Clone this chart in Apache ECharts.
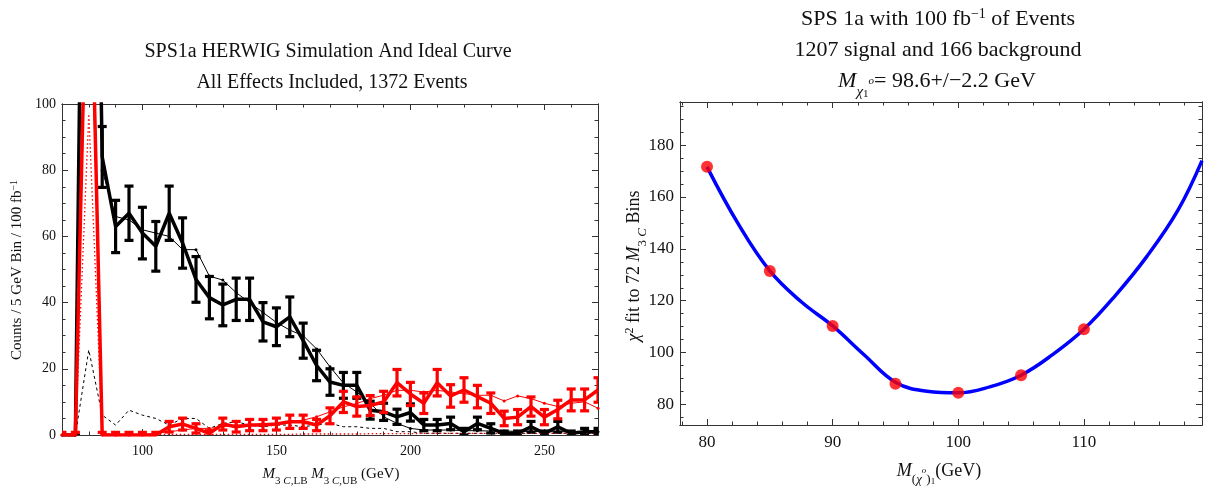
<!DOCTYPE html>
<html><head><meta charset="utf-8">
<script src="https://cdn.jsdelivr.net/npm/echarts@6/dist/echarts.min.js"></script>
<style>html,body{margin:0;padding:0;background:#fff}#c{width:1208px;height:488px}</style>
</head><body><div id="c"></div>
<script>
// ---------- Left panel data (5 GeV bins) ----------
const massBins = [70,75,80,85,90,95,100,105,110,115,120,125,130,135,140,145,150,155,160,165,170,175,180,185,190,195,200,205,210,215,220,225,230,235,240,245,250,255,260,265,270];
const lbCounts = [0,0,330,84,63,67,61,57,67,58,47,41.5,39.3,41,41,34.2,32.7,35.7,28.5,21,16,15,15,7.5,7,5.5,6.8,3,3,3.5,1,3.5,2,0.5,0.5,2.5,0.5,2.5,0.5,1,1];
const lbErrors = [0,0,18,9.2,7.9,8.2,7.8,7.5,8.2,7.6,6.9,6.4,6.3,6.4,6.4,5.8,5.7,6,5.3,4.6,4,3.9,3.9,2.7,2.6,2.3,2.6,1.7,1.7,1.9,1,1.9,1.4,0.7,0.7,1.6,0.7,1.6,0.7,1,1];
const lbIdeal = [0,0,300,80,66,65,62,61,60,56,56,48,46.8,43,40,37,34,31.7,30,26,20.6,15.7,13,9.6,5.5,3.5,2,1.5,1.5,1.5,1.3,1.3,1.2,1.2,1.1,1.1,1,1,1,1,1];
const lbBackground = [0,0,25.7,6,3,7.5,6,5,3,5,5,2,3.5,4,3,2.5,3,3,2.5,3,3.5,2.5,2.5,2,2,1,1,0.5,0.5,0.5,0.5,0.5,0.5,0.5,0.5,0.5,0.5,0.5,0.5,0.5,0.5];
const ubCounts = [0,0,175,0,0,0,0,0,2.5,3.3,2,0.5,3.3,2.5,3,3,3.3,4,4,3,5.8,10,8.6,8.9,10,15.8,12.4,9.6,15.8,11.8,13.6,11.6,9.6,5,5.4,8.6,5.4,7.7,10.6,10.6,13.6];
const ubErrors = [0.8,0.8,13,0.8,0.8,0.8,0.8,0.8,1.6,1.8,1.4,0.8,1.8,1.6,1.7,1.7,1.8,2,2,1.7,2.4,3.2,2.9,3,3.2,4,3.5,3.1,4,3.4,3.7,3.4,3.1,2.2,2.3,2.9,2.3,2.8,3.3,3.3,3.7];
const ubIdeal = [0,0,160,0,0,0,0,0.5,1,1.5,2,2,2.5,3,3,3.5,3.5,4,4.5,5.5,7,8.5,9.5,11,12,13.5,13.5,13,13.5,13,12.5,12,12,10.3,11.8,11,9.6,8.6,9.6,10,8.1];
const ubBackground = [0,0,97,0.5,0.2,0.2,0.2,0.2,0.2,0.2,0.2,0.2,0.2,0.2,0.2,0.2,0.2,0.2,0.3,0.3,0.3,0.3,0.3,0.4,0.4,0.4,0.4,0.5,0.5,0.5,0.5,0.5,0.5,0.5,0.5,0.5,0.5,0.5,0.5,0.5,0.5];

// ---------- Right panel data ----------
const fitMasses = [80,85,90,95,100,105,110];
const fitChi2 = [171.6,131.5,110.3,88,84.5,91.3,109];
const curveMasses = [80,82.5,85,87.5,90,92.5,95,97.5,100,102.5,105,107.5,110,112.5,115,117.5,119.4];
const curveChi2 = [171.6,149.5,131.5,119.6,110.3,99.2,88.6,85.1,84.5,86.8,91.3,99.2,109,122,137,155,174];

// ---------- Tick values ----------
const leftXMajor = [100,150,200,250];
const leftXMinor = [70,80,90,110,120,130,140,160,170,180,190,210,220,230,240,260,270];
const leftYMajor = [0,20,40,60,80,100];
const leftYMinor = [5,10,15,25,30,35,45,50,55,65,70,75,85,90,95];
const rightXMajor = [80,90,100,110];
const rightXMinor = [78,82,84,86,88,92,94,96,98,102,104,106,108,112,114,116,118];
const rightYMajor = [80,100,120,140,160,180];
const rightYMinor = [75,85,90,95,105,110,115,125,130,135,145,150,155,165,170,175,185,190,195];

const SERIF = "'Liberation Serif','DejaVu Serif',serif";
const FRAME = '#333';

function pairs(xs, ys){ return xs.map((x,i)=>[x, ys[i]]); }
function triples(xs, ys, es){ return xs.map((x,i)=>[x, ys[i], es[i]]); }

function axis(grid, pos, min, max, ticks, len, labels, fs, margin){
  return {
    type:'value', gridIndex:grid, position:pos, min:min, max:max,
    axisLine:{show:true, onZero:false, lineStyle:{color:FRAME, width:1}},
    axisTick:{show:true, inside:true, length:len, customValues:ticks, lineStyle:{color:FRAME, width:1}},
    axisLabel: labels ? {show:true, customValues:ticks, fontFamily:SERIF, fontSize:fs, color:'#111', margin:margin} : {show:false},
    splitLine:{show:false}
  };
}

const xAxes = [
  axis(0,'bottom',70,270,leftXMajor,6,true,14,9),
  axis(0,'top',70,270,leftXMajor,6,false),
  axis(0,'bottom',70,270,leftXMinor,3.5,false),
  axis(0,'top',70,270,leftXMinor,3.5,false),
  axis(1,'bottom',77.85,119.4,rightXMajor,6,true,17,9),
  axis(1,'top',77.85,119.4,rightXMajor,6,false),
  axis(1,'bottom',77.85,119.4,rightXMinor,3.5,false),
  axis(1,'top',77.85,119.4,rightXMinor,3.5,false)
];
const yAxes = [
  axis(0,'left',0,100,leftYMajor,6,true,14,6),
  axis(0,'right',0,100,leftYMajor,6,false),
  axis(0,'left',0,100,leftYMinor,3.5,false),
  axis(0,'right',0,100,leftYMinor,3.5,false),
  axis(1,'left',72.1,196.6,rightYMajor,6,true,17,6),
  axis(1,'right',72.1,196.6,rightYMajor,6,false),
  axis(1,'left',72.1,196.6,rightYMinor,3.5,false),
  axis(1,'right',72.1,196.6,rightYMinor,3.5,false)
];

function errRender(color, cap, lw){
  return function(params, api){
    const x = api.value(0), y = api.value(1), e = api.value(2);
    const lo = api.coord([x, y - e]), hi = api.coord([x, y + e]);
    const st = {stroke:color, lineWidth:lw};
    return {type:'group', children:[
      {type:'line', shape:{x1:lo[0], y1:lo[1], x2:hi[0], y2:hi[1]}, style:st},
      {type:'line', shape:{x1:lo[0]-cap, y1:lo[1], x2:lo[0]+cap, y2:lo[1]}, style:st},
      {type:'line', shape:{x1:hi[0]-cap, y1:hi[1], x2:hi[0]+cap, y2:hi[1]}, style:st}
    ]};
  };
}

function rich(base){
  const L = Math.round(base*1.7);
  const c = '#111';
  const sbF = Math.round(base*0.7), sbL = Math.round(base*1.05);
  const ssF = Math.round(base*0.5), ssL = Math.round(base*0.55);
  return {
    n:{fontSize:base, lineHeight:L, fontFamily:SERIF, color:c},
    i:{fontSize:base, lineHeight:L, fontFamily:SERIF, fontStyle:'italic', color:c},
    sb:{fontSize:sbF, lineHeight:sbL, verticalAlign:'bottom', fontFamily:SERIF, color:c},
    sbi:{fontSize:sbF, lineHeight:sbL, verticalAlign:'bottom', fontFamily:SERIF, fontStyle:'italic', color:c},
    ss:{fontSize:ssF, lineHeight:ssL, verticalAlign:'bottom', fontFamily:SERIF, color:c},
    so:{fontSize:ssF, lineHeight:ssF, verticalAlign:'middle', fontFamily:SERIF, fontStyle:'italic', color:c},
    sp:{fontSize:Math.round(base*0.65), lineHeight:Math.round(base*0.65), verticalAlign:'top', padding:[Math.round(base*0.3),0,0,0], fontFamily:SERIF, color:c},
    r:{fontSize:base, lineHeight:L, fontFamily:SERIF, fontStyle:'italic', color:'#ff0000'},
    rsb:{fontSize:sbF, lineHeight:sbL, verticalAlign:'bottom', fontFamily:SERIF, color:'#ff0000'},
    rsbi:{fontSize:sbF, lineHeight:sbL, verticalAlign:'bottom', fontFamily:SERIF, fontStyle:'italic', color:'#ff0000'}
  };
}

function txt(x, y, text, base, rot){
  return {type:'text', x:x, y:y, rotation:rot||0, silent:true,
    style:{text:text, align:'center', verticalAlign:'middle', fontFamily:SERIF, fontSize:base, fill:'#111', rich:rich(base)}};
}

const chart = echarts.init(document.getElementById('c'), null, {renderer:'canvas'});
chart.setOption({
  animation:false,
  backgroundColor:'#fff',
  grid:[
    {left:62, top:104, width:536, height:331},
    {left:680, top:102, width:522, height:323}
  ],
  xAxis:xAxes,
  yAxis:yAxes,
  graphic:[
    txt(328, 52, '{n|SPS1a HERWIG Simulation And Ideal Curve}', 20),
    txt(332, 83, '{n|All Effects Included, 1372 Events}', 20),
    txt(938, 19, '{n|SPS 1a with 100 fb}{sp|−1}{n| of Events}', 22),
    txt(938, 50, '{n|1207 signal and 166 background}', 22),
    txt(937, 81, '{i|M}{sbi|χ}{ss|1}{so|o}{n|= 98.6+/−2.2 GeV}', 22),
    txt(17, 270, '{n|Counts / 5 GeV Bin / 100 fb}{sp|−1}', 15, Math.PI/2),
    txt(331, 474, '{i|M}{sb|3 }{sbi|C}{sb|,LB} {r|M}{rsb|3 }{rsbi|C}{rsb|,UB} {n|(GeV)}', 15),
    txt(634, 266, '{i|χ}{sp|2}{n| fit to 72 }{i|M}{sb|3 }{sbi|C}{n| Bins}', 18, Math.PI/2),
    txt(939, 471, '{i|M}{sb|(}{sbi|χ}{so|o}{sb|)}{ss|1}{n|(GeV)}', 18)
  ],
  series:[
    {name:'lbBackground', type:'line', xAxisIndex:0, yAxisIndex:0, data:pairs(massBins, lbBackground), symbol:'none',
      lineStyle:{color:'#000', width:1, type:[3,3]}, clip:true, z:2},
    {name:'ubBackground', type:'line', xAxisIndex:0, yAxisIndex:0, data:pairs(massBins, ubBackground), symbol:'none',
      lineStyle:{color:'#ff0000', width:1.3, type:[1.5,2.5]}, clip:true, z:2},
    {name:'lbIdeal', type:'line', xAxisIndex:0, yAxisIndex:0, data:pairs(massBins, lbIdeal), symbol:'circle', symbolSize:3,
      itemStyle:{color:'#000'}, lineStyle:{color:'#000', width:1}, clip:true, z:3},
    {name:'ubIdeal', type:'line', xAxisIndex:0, yAxisIndex:0, data:pairs(massBins, ubIdeal), symbol:'circle', symbolSize:3,
      itemStyle:{color:'#ff0000'}, lineStyle:{color:'#ff0000', width:1}, clip:true, z:3},
    {name:'lbCounts', type:'line', xAxisIndex:0, yAxisIndex:0, data:pairs(massBins, lbCounts), symbol:'none',
      lineStyle:{color:'#000', width:3.5}, clip:true, z:4},
    {name:'lbErr', type:'custom', xAxisIndex:0, yAxisIndex:0, data:triples(massBins, lbCounts, lbErrors),
      renderItem:errRender('#000', 4.5, 3.2), clip:true, z:4},
    {name:'ubCounts', type:'line', xAxisIndex:0, yAxisIndex:0, data:pairs(massBins, ubCounts), symbol:'none',
      lineStyle:{color:'#ff0000', width:3.5}, clip:true, z:5},
    {name:'ubErr', type:'custom', xAxisIndex:0, yAxisIndex:0, data:triples(massBins, ubCounts, ubErrors),
      renderItem:errRender('#ff0000', 4.5, 3.2), clip:true, z:5},
    {name:'fitCurve', type:'line', xAxisIndex:4, yAxisIndex:4, data:pairs(curveMasses, curveChi2), symbol:'none', smooth:0.4,
      lineStyle:{color:'#0000ff', width:3.5}, clip:true, z:3},
    {name:'fitPoints', type:'scatter', xAxisIndex:4, yAxisIndex:4, data:pairs(fitMasses, fitChi2), symbol:'circle', symbolSize:12,
      itemStyle:{color:'#ff0000'}, z:4}
  ]
});
</script></body></html>
